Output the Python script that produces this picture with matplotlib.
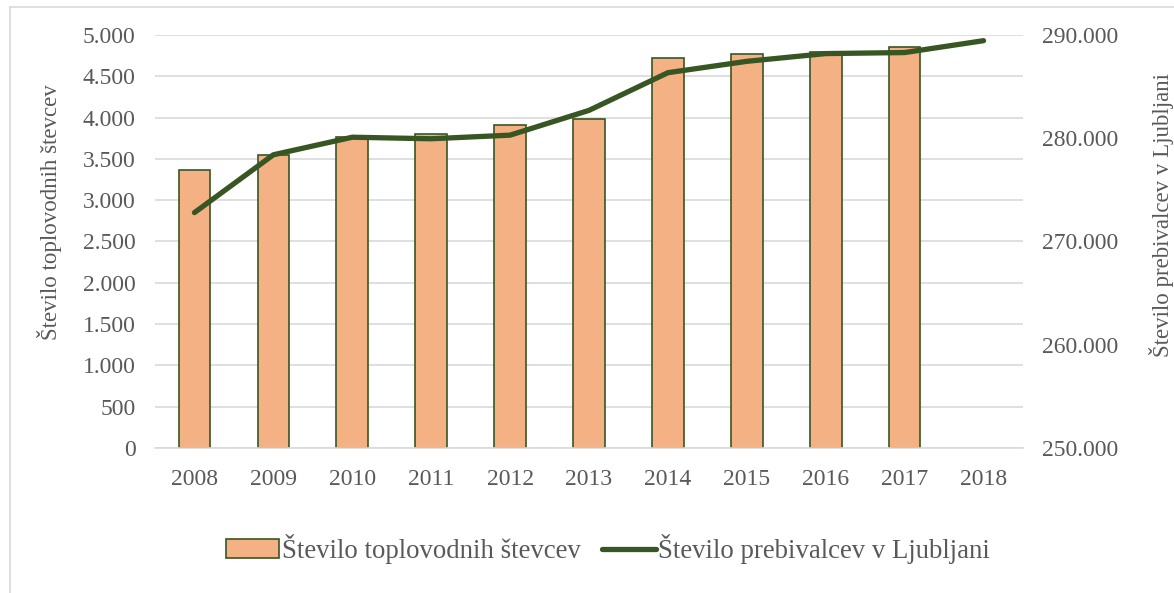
import matplotlib.pyplot as plt
from matplotlib.lines import Line2D
from matplotlib.ticker import FuncFormatter

plt.rcParams['font.family'] = ['Liberation Serif', 'DejaVu Serif']

years = ['2008', '2009', '2010', '2011', '2012', '2013', '2014', '2015', '2016', '2017', '2018']
meters = [3360, 3550, 3765, 3800, 3910, 3980, 4720, 4770, 4800, 4860, None]
population = [272800, 278400, 280100, 279950, 280300, 282700, 286350, 287450, 288200, 288300, 289450]

text_col = '#595959'
bar_col = '#F4B183'
green = '#375623'


def dots(v, pos):
    return f'{int(v):,}'.replace(',', '.')


fig = plt.figure(figsize=(11.74, 5.93), dpi=100)
ax = fig.add_axes([155 / 1174, 1 - 448 / 593, (1023 - 155) / 1174, (448 - 35) / 593])

x = list(range(len(years)))
bx = [i for i, m in zip(x, meters) if m is not None]
bh = [m for m in meters if m is not None]
ax.bar(bx, bh, width=0.4, color=bar_col, edgecolor=green, linewidth=1.2,
       label='Število toplovodnih števcev', zorder=2)
ax.set_ylim(0, 5000)
ax.set_xlim(-0.5, len(years) - 0.5)
ax.set_yticks(range(0, 5001, 500))
ax.yaxis.set_major_formatter(FuncFormatter(dots))
ax.set_xticks(x)
ax.set_xticklabels(years)
ax.grid(axis='y', color='#d9d9d9', linewidth=1.2, zorder=0)
ax.set_axisbelow(True)
for s in ['top', 'right', 'left']:
    ax.spines[s].set_visible(False)
ax.spines['bottom'].set_color('#d9d9d9')
ax.spines['bottom'].set_linewidth(1.2)
ax.tick_params(length=0, labelsize=17, colors=text_col)
ax.tick_params(axis='x', pad=15)
ax.tick_params(axis='y', pad=14)
ax.set_ylabel('Število toplovodnih števcev', fontsize=16.5, color=text_col, labelpad=15)
ax.yaxis.label.set_y(0.57)

ax2 = ax.twinx()
ax2.plot(x, population, color=green, linewidth=3.8, solid_capstyle='round',
         label='Število prebivalcev v Ljubljani', zorder=3)
ax2.set_ylim(250000, 290000)
ax2.set_yticks(range(250000, 290001, 10000))
ax2.yaxis.set_major_formatter(FuncFormatter(dots))
for s in ax2.spines.values():
    s.set_visible(False)
ax2.tick_params(length=0, labelsize=17, colors=text_col, pad=14)
ax2.set_ylabel('Število prebivalcev v Ljubljani', fontsize=16.5, color=text_col, labelpad=22)
ax2.yaxis.label.set_y(0.565)

h1, l1 = ax.get_legend_handles_labels()
h2, l2 = ax2.get_legend_handles_labels()
fig.legend(h1 + h2, l1 + l2, loc='center', bbox_to_anchor=(608 / 1174, 1 - 549 / 593),
           ncol=2, frameon=False, fontsize=19.3, labelcolor=text_col,
           handlelength=2.0, handletextpad=0.1, columnspacing=0.8)

# thin frame around the chart area
fig.add_artist(Line2D([10 / 1174, 10 / 1174], [0, 1 - 7 / 593], color='#d9d9d9', linewidth=1.2))
fig.add_artist(Line2D([10 / 1174, 1], [1 - 7 / 593, 1 - 7 / 593], color='#d9d9d9', linewidth=1.2))

fig.savefig('out.png', dpi=100)
